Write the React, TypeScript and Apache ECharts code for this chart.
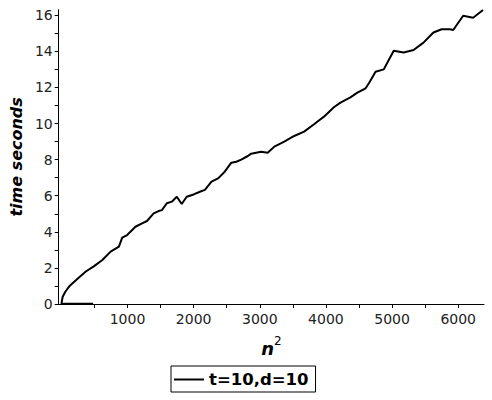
import React, { useEffect, useRef } from "react";
import * as echarts from "echarts";

// n^2 values and measured times (seconds) for t=10, d=10
const xValues = [0, 20, 60, 120, 245, 370, 495, 620, 745, 870, 920, 995, 1120, 1220, 1295, 1395, 1470, 1520, 1595, 1670, 1745, 1820, 1895, 2000, 2095, 2170, 2270, 2370, 2470, 2570, 2645, 2720, 2820, 2870, 3020, 3120, 3220, 3370, 3520, 3670, 3820, 3970, 4120, 4220, 4370, 4475, 4600, 4650, 4750, 4875, 4950, 5025, 5175, 5325, 5475, 5625, 5750, 5875, 5925, 6075, 6225, 6375];
const yValues = [0, 0.4, 0.68, 0.98, 1.4, 1.8, 2.1, 2.44, 2.9, 3.18, 3.68, 3.82, 4.28, 4.47, 4.6, 5.02, 5.15, 5.2, 5.58, 5.67, 5.94, 5.54, 5.94, 6.07, 6.22, 6.32, 6.78, 6.96, 7.33, 7.83, 7.88, 8.0, 8.2, 8.33, 8.44, 8.38, 8.72, 9.0, 9.31, 9.55, 9.96, 10.38, 10.9, 11.16, 11.45, 11.71, 11.95, 12.23, 12.87, 13.0, 13.52, 14.03, 13.93, 14.07, 14.48, 15.04, 15.22, 15.22, 15.18, 15.97, 15.86, 16.29];

// short near-zero trace at the start
const xBase = [0, 100, 200, 300, 400, 480];
const yBase = [0.02, 0.02, 0.02, 0.02, 0.02, 0.02];

const seriesName = "t=10,d=10";
const xTickValues = [500, 1000, 1500, 2000, 2500, 3000, 3500, 4000, 4500, 5000, 5500, 6000];
const xLabelValues = [1000, 2000, 3000, 4000, 5000, 6000];
const yTickValues = [0, 1, 2, 3, 4, 5, 6, 7, 8, 9, 10, 11, 12, 13, 14, 15, 16];
const yLabelValues = [0, 2, 4, 6, 8, 10, 12, 14, 16];

export default function App() {
  const ref = useRef<HTMLDivElement>(null);
  useEffect(() => {
    if (!ref.current) return;
    const chart = echarts.init(ref.current, undefined, { renderer: "svg" });
    const font = "DejaVu Sans";
    chart.setOption({
      animation: false,
      backgroundColor: "#fff",
      grid: { left: 56, right: 8, top: 9.8, bottom: 96 },
      xAxis: {
        type: "value",
        min: -40,
        max: 6390,
        name: "{a|n}{b|2}",
        nameLocation: "middle",
        nameGap: 31,
        nameTextStyle: {
          rich: {
            a: { fontFamily: font, fontSize: 18, fontWeight: "bold", fontStyle: "italic", color: "#000", lineHeight: 22, verticalAlign: "bottom" },
            b: { fontFamily: font, fontSize: 12, color: "#000", lineHeight: 8, verticalAlign: "top" },
          },
          lineHeight: 26,
        },
        axisLine: { show: true, onZero: false, lineStyle: { color: "#000", width: 1 } },
        axisTick: { show: true, customValues: xTickValues, length: 4, lineStyle: { color: "#000" } },
        axisLabel: {
          customValues: xLabelValues,
          formatter: (v: number) => String(v),
          margin: 8,
          color: "#222",
          fontFamily: font,
          fontSize: 14,
        },
        splitLine: { show: false },
      },
      yAxis: {
        type: "value",
        min: 0,
        max: 16.3,
        name: "time seconds",
        nameLocation: "middle",
        nameGap: 27,
        nameTextStyle: { fontFamily: font, fontSize: 16, fontWeight: "bold", fontStyle: "italic", color: "#000" },
        axisLine: { show: true, onZero: false, lineStyle: { color: "#000", width: 1 } },
        axisTick: { show: true, customValues: yTickValues, length: 4, lineStyle: { color: "#000" } },
        axisLabel: {
          customValues: yLabelValues,
          formatter: (v: number) => String(v),
          margin: 6,
          color: "#222",
          fontFamily: font,
          fontSize: 14,
        },
        splitLine: { show: false },
      },
      legend: {
        data: [{ name: seriesName, icon: "rect" }],
        left: 171,
        top: 366,
        orient: "horizontal",
        borderColor: "#000",
        borderWidth: 1,
        borderRadius: 0,
        padding: [5, 7, 4, 3],
        itemWidth: 30,
        itemHeight: 2,
        itemGap: 5,
        textStyle: { fontFamily: font, fontSize: 16.5, fontWeight: "bold", color: "#000" },
      },
      series: [
        {
          name: seriesName,
          type: "line",
          data: xValues.map((x, i) => [x, yValues[i]]),
          symbol: "none",
          lineStyle: { color: "#000", width: 2 },
          itemStyle: { color: "#000" },
        },
        {
          name: "base",
          type: "line",
          data: xBase.map((x, i) => [x, yBase[i]]),
          symbol: "none",
          lineStyle: { color: "#000", width: 2 },
          itemStyle: { color: "#000" },
        },
      ],
    });
    return () => chart.dispose();
  }, []);
  return <div ref={ref} style={{ position: "fixed", left: 0, top: 0, width: 492, height: 400 }} />;
}
